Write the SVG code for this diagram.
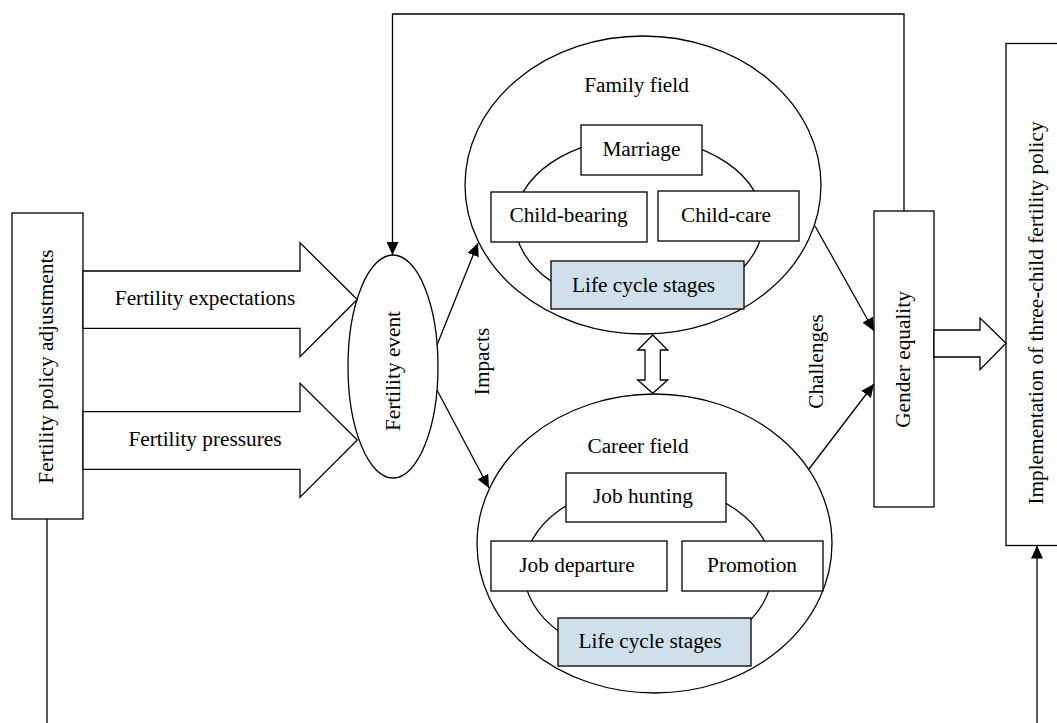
<svg xmlns="http://www.w3.org/2000/svg" width="1057" height="723" viewBox="0 0 1057 723">
<style>
text{font-family:"Liberation Serif","Times New Roman",serif;font-size:21.3px;fill:#000;text-anchor:middle}
.s{fill:#fff;stroke:#000;stroke-width:1.3}
.n{fill:none;stroke:#000;stroke-width:1.3}
.b{fill:#CFE0EB;stroke:#000;stroke-width:1.3}
.c{fill:none;stroke:#000;stroke-width:1.3}
</style>
<defs>
<marker id="ah" markerUnits="userSpaceOnUse" markerWidth="14" markerHeight="12" refX="13" refY="6" orient="auto">
<path d="M0,0 L13,6 L0,12 Z" fill="#000"/>
</marker>
</defs>
<rect width="1057" height="723" fill="#fff"/>

<g id="family-field">
<ellipse class="s" cx="643" cy="185" rx="178" ry="149"/>
<text x="636.5" y="92">Family field</text>
<ellipse class="n" cx="639" cy="222" rx="124" ry="84"/>
</g>
<g id="marriage"><rect class="s" x="581" y="125" width="121" height="50"/><text x="641.4" y="155.6">Marriage</text></g>
<g id="child-bearing"><rect class="s" x="491" y="192" width="156" height="50"/><text x="568.6" y="222">Child-bearing</text></g>
<g id="child-care"><rect class="s" x="658" y="191" width="141" height="50"/><text x="726" y="221.7">Child-care</text></g>
<g id="family-life-cycle"><rect class="b" x="551" y="261" width="193" height="48"/><text x="643.6" y="291.7">Life cycle stages</text></g>

<g id="career-field">
<ellipse class="s" cx="654.5" cy="543.5" rx="177.5" ry="149.5"/>
<text x="638" y="453">Career field</text>
<ellipse class="n" cx="648" cy="571" rx="124" ry="87"/>
</g>
<g id="job-hunting"><rect class="s" x="566" y="473" width="160" height="49"/><text x="643" y="502.7">Job hunting</text></g>
<g id="job-departure"><rect class="s" x="491" y="541" width="176" height="50"/><text x="577" y="571.7">Job departure</text></g>
<g id="promotion"><rect class="s" x="682" y="541" width="141" height="50"/><text x="752" y="571.7">Promotion</text></g>
<g id="career-life-cycle"><rect class="b" x="558" y="618" width="193" height="48"/><text x="650" y="648.3">Life cycle stages</text></g>

<g id="policy-adjustments">
<rect class="s" x="12" y="213" width="71" height="306"/>
<text transform="translate(53,366.5) rotate(-90)">Fertility policy adjustments</text>
</g>
<g id="fertility-event">
<ellipse class="s" cx="393" cy="366.5" rx="45" ry="111.5"/>
<text transform="translate(400,371) rotate(-90)">Fertility event</text>
</g>
<g id="gender-equality">
<rect class="s" x="874" y="211" width="60" height="296"/>
<text transform="translate(910,359.5) rotate(-90)">Gender equality</text>
</g>
<g id="three-child-policy">
<rect class="s" x="1006" y="43.5" width="60" height="502"/>
<text transform="translate(1043,313) rotate(-90)">Implementation of three-child fertility policy</text>
</g>

<g id="connectors">
<polygon class="s" points="83,271 300,271 300,242.7 357.3,299.5 300,356.7 300,328.3 83,328.3"/>
<text x="205" y="305">Fertility expectations</text>
<polygon class="s" points="83,411.7 300,411.7 300,383.3 357.3,440 300,497.3 300,469.3 83,469.3"/>
<text x="205" y="446">Fertility pressures</text>
<polygon class="s" points="934,330 980,330 980,318 1006,343.3 980,369.7 980,357 934,357"/>
<polygon class="s" points="652.7,335 667.7,350 660.3,350 660.3,380 667.7,380 652.7,393.3 637.7,380 645,380 645,350 637.7,350"/>
<polyline class="c" points="904,211 904,14 392.5,14 392.5,255" marker-end="url(#ah)"/>
<line class="c" x1="437" y1="345" x2="478" y2="243" marker-end="url(#ah)"/>
<line class="c" x1="437" y1="390" x2="489" y2="488" marker-end="url(#ah)"/>
<text transform="translate(489,361.5) rotate(-90)">Impacts</text>
<line class="c" x1="815" y1="226" x2="874" y2="331" marker-end="url(#ah)"/>
<line class="c" x1="809" y1="469" x2="874" y2="384" marker-end="url(#ah)"/>
<text transform="translate(823,361.5) rotate(-90)">Challenges</text>
<line class="c" x1="47" y1="519" x2="47" y2="723"/>
<line class="c" x1="1037" y1="723" x2="1037" y2="545.5" marker-end="url(#ah)"/>
</g>
</svg>
